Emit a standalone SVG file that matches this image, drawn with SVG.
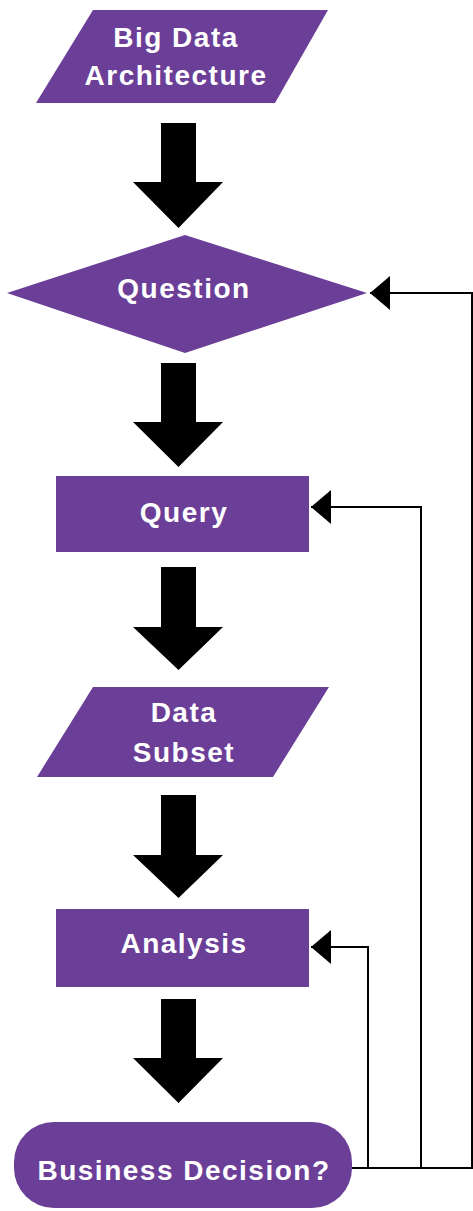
<svg xmlns="http://www.w3.org/2000/svg" width="473" height="1211" viewBox="0 0 473 1211">
<defs>
<style>
.node{fill:#6B3F98;}
.lbl{fill:#fff;font-family:"Liberation Sans",Arial,sans-serif;font-weight:bold;font-size:28px;letter-spacing:1.5px;text-anchor:middle;}
.big{fill:#000;}
.fb{fill:none;stroke:#000;stroke-width:2;}
</style>
<marker id="ah" viewBox="0 0 20 34" refX="20" refY="17" markerWidth="20" markerHeight="34" markerUnits="userSpaceOnUse" orient="auto">
<path d="M0,0 L20,17 L0,34 Z" fill="#000"/>
</marker>
</defs>
<rect width="473" height="1211" fill="#fff"/>
<g id="connectors">
<path class="big" d="M161,123 H196 V182 H223 L178.5,228 L133,182 H161 Z"/>
<path class="big" d="M161,363 H196 V422 H223 L178.5,467 L133,422 H161 Z"/>
<path class="big" d="M161,567 H196 V627 H223 L178.5,670 L133,627 H161 Z"/>
<path class="big" d="M161,795 H196 V855 H223 L178.5,898 L133,855 H161 Z"/>
<path class="big" d="M161,999 H196 V1058 H223 L178.5,1103 L133,1058 H161 Z"/>
<path class="fb" d="M352,1168 H472 V293 H370" marker-end="url(#ah)"/>
<path class="fb" d="M421,1168 V507 H311" marker-end="url(#ah)"/>
<path class="fb" d="M368,1168 V947 H311" marker-end="url(#ah)"/>
</g>
<g id="node-bigdata">
<polygon class="node" points="93,10 328,10 275,103 36,103"/>
<text class="lbl" x="176" y="47">Big Data</text>
<text class="lbl" x="176" y="85">Architecture</text>
</g>
<g id="node-question">
<polygon class="node" points="185,235 367,293 185,353 7,293"/>
<text class="lbl" x="184" y="298">Question</text>
</g>
<g id="node-query">
<rect class="node" x="56" y="476" width="253" height="76"/>
<text class="lbl" x="184" y="522">Query</text>
</g>
<g id="node-subset">
<polygon class="node" points="93,687 329,687 273,777 37,777"/>
<text class="lbl" x="184" y="722">Data</text>
<text class="lbl" x="184" y="762">Subset</text>
</g>
<g id="node-analysis">
<rect class="node" x="56" y="909" width="253" height="78"/>
<text class="lbl" x="184" y="953">Analysis</text>
</g>
<g id="node-decision">
<rect class="node" x="14" y="1122" width="338" height="86" rx="40" ry="40"/>
<text class="lbl" x="184" y="1180">Business Decision?</text>
</g>
</svg>
